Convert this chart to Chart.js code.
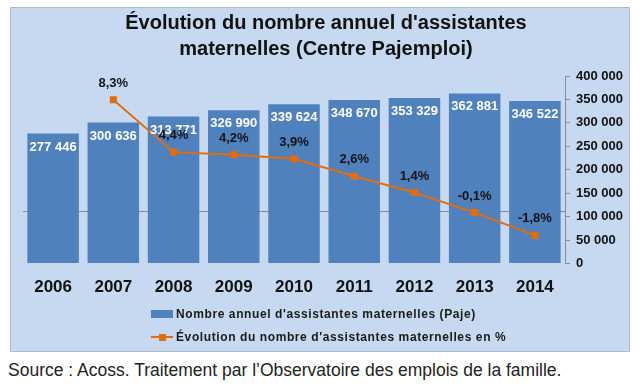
<!DOCTYPE html>
<html lang="fr">
<head>
<meta charset="utf-8">
<script src="https://cdn.jsdelivr.net/npm/chart.js@4.4.1/dist/chart.umd.min.js"></script>
<style>
  html, body { margin: 0; padding: 0; background: #fff; }
  body { width: 640px; height: 389px; position: relative; overflow: hidden; font-family: Arial, "Liberation Sans", sans-serif; }
  #cadre { position: absolute; left: 10px; top: 7px; width: 620px; height: 345px; box-sizing: border-box;
           background: #c6d9f1; border: 1px solid #a9bcd4; }
  #cadre canvas { position: absolute; left: 0; top: 0; }
  .leg { position: absolute; left: 140px; font: bold 12px Arial, "Liberation Sans", sans-serif; color: #1a1a1a;
         letter-spacing: 0.6px; white-space: nowrap; display: flex; align-items: center; }
  .leg .box { width: 22px; height: 8px; margin-right: 3px; }
  .leg .trait { width: 22px; height: 2px; margin-right: 3px; position: relative; }
  .leg .trait span { position: absolute; left: 7.5px; top: -2.5px; width: 7px; height: 7px; }
  #source { position: absolute; left: 8px; top: 360px; font: 17.5px Arial, "Liberation Sans", sans-serif; color: #222; white-space: nowrap; }
</style>
</head>
<body>
<div id="cadre">
  <canvas id="assistantesChart" width="620" height="345"></canvas>
  <div class="leg" id="leg1" style="top:299px"></div>
  <div class="leg" id="leg2" style="top:322px"></div>
</div>
<div id="source">Source : Acoss. Traitement par l’Observatoire des emplois de la famille.</div>

<script>
'use strict';
// donnees
const annees = ['2006', '2007', '2008', '2009', '2010', '2011', '2012', '2013', '2014'];
const nbAssistantes = [277446, 300636, 313771, 326990, 339624, 348670, 353329, 362881, 346522];
const evolution = [null, 8.3, 4.4, 4.2, 3.9, 2.6, 1.4, -0.1, -1.8];
const ticksGauche = [0, 50000, 100000, 150000, 200000, 250000, 300000, 350000, 400000];

const labelBarres = "Nombre annuel d'assistantes maternelles (Paje)";
const labelCourbe = "Évolution du nombre d'assistantes maternelles en %";

const bleu = '#4f81bd';
const orange = '#e46c0a';

// 277446 -> "277 446"
function formatNombre(v) {
  return String(v).replace(/\B(?=(\d{3})+(?!\d))/g, ' ');
}
function formatPct(v) {
  return v.toFixed(1).replace('.', ',') + '%';
}

// etiquettes sur les barres et sur la courbe
const etiquettes = {
  id: 'etiquettes',
  afterDatasetsDraw(chart) {
    const ctx = chart.ctx;
    ctx.save();
    ctx.textAlign = 'center';
    ctx.textBaseline = 'middle';
    ctx.font = 'bold 13px Arial, "Liberation Sans", sans-serif';

    const metaBar = chart.getDatasetMeta(1);
    ctx.fillStyle = '#ffffff';
    metaBar.data.forEach((el, i) => {
      ctx.fillText(formatNombre(nbAssistantes[i]), el.x, el.y + 13.5);
    });

    const metaLigne = chart.getDatasetMeta(0);
    ctx.fillStyle = '#141414';
    metaLigne.data.forEach((el, i) => {
      if (evolution[i] === null) return;
      ctx.fillText(formatPct(evolution[i]), el.x, el.y - 16.5);
    });
    ctx.restore();
  }
};

const ctx = document.getElementById('assistantesChart').getContext('2d');

let assistantesChart = new Chart(ctx, {
  type: 'bar',
  data: {
    labels: annees,
    datasets: [{
      type: 'line',
      label: labelCourbe,
      data: evolution,
      yAxisID: 'y1',
      borderColor: orange,
      backgroundColor: orange,
      borderWidth: 2,
      pointStyle: 'rect',
      pointRadius: 5,
      pointBorderWidth: 0,
      pointBackgroundColor: orange,
      tension: 0,
      order: 0
    }, {
      label: labelBarres,
      data: nbAssistantes,
      yAxisID: 'y',
      backgroundColor: bleu,
      borderWidth: 0,
      categoryPercentage: 1,
      barPercentage: 0.855,
      order: 1
    }]
  },
  options: {
    responsive: false,
    animation: false,
    layout: { padding: { left: 12, right: 2, bottom: 41, top: 0 } },
    plugins: {
      legend: { display: false },
      tooltip: { enabled: false },
      title: {
        display: true,
        text: ["Évolution du nombre annuel d'assistantes", 'maternelles (Centre Pajemploi)'],
        color: '#111',
        font: { family: 'Arial, "Liberation Sans", sans-serif', size: 20, weight: 'bold', lineHeight: 1.3 },
        padding: { top: 2, bottom: 14 }
      }
    },
    scales: {
      x: {
        grid: { display: false, drawTicks: false },
        border: { display: false },
        ticks: {
          color: '#111',
          padding: 14,
          font: { family: 'Arial, "Liberation Sans", sans-serif', size: 17, weight: 'bold' }
        }
      },
      y: {
        position: 'right',
        min: 0,
        max: 400000,
        afterBuildTicks: axis => { axis.ticks = ticksGauche.map(v => ({ value: v })); },
        grid: { display: true, drawOnChartArea: false, drawTicks: true, tickLength: 5, color: '#8c8c8c' },
        border: { display: true, color: '#8c8c8c', width: 1 },
        ticks: {
          color: '#111',
          padding: 6,
          font: { family: 'Arial, "Liberation Sans", sans-serif', size: 13, weight: 'bold' },
          callback: v => formatNombre(v)
        }
      },
      y1: {
        position: 'left',
        min: -3.9,
        max: 10.07,
        afterBuildTicks: axis => { axis.ticks = [{ value: 0 }]; },
        grid: { display: true, drawTicks: false, color: '#8a8a8a', lineWidth: 1 },
        border: { display: false },
        ticks: { display: false }
      }
    }
  },
  plugins: [etiquettes]
});

// legende en html, construite depuis les jeux de donnees
const dsBarres = assistantesChart.data.datasets[1];
const dsCourbe = assistantesChart.data.datasets[0];
document.getElementById('leg1').innerHTML =
  '<div class="box" style="background:' + dsBarres.backgroundColor + '"></div>' + dsBarres.label;
document.getElementById('leg2').innerHTML =
  '<div class="trait" style="background:' + dsCourbe.borderColor + '"><span style="background:' + dsCourbe.borderColor + '"></span></div>' + dsCourbe.label;
</script>
</body>
</html>
